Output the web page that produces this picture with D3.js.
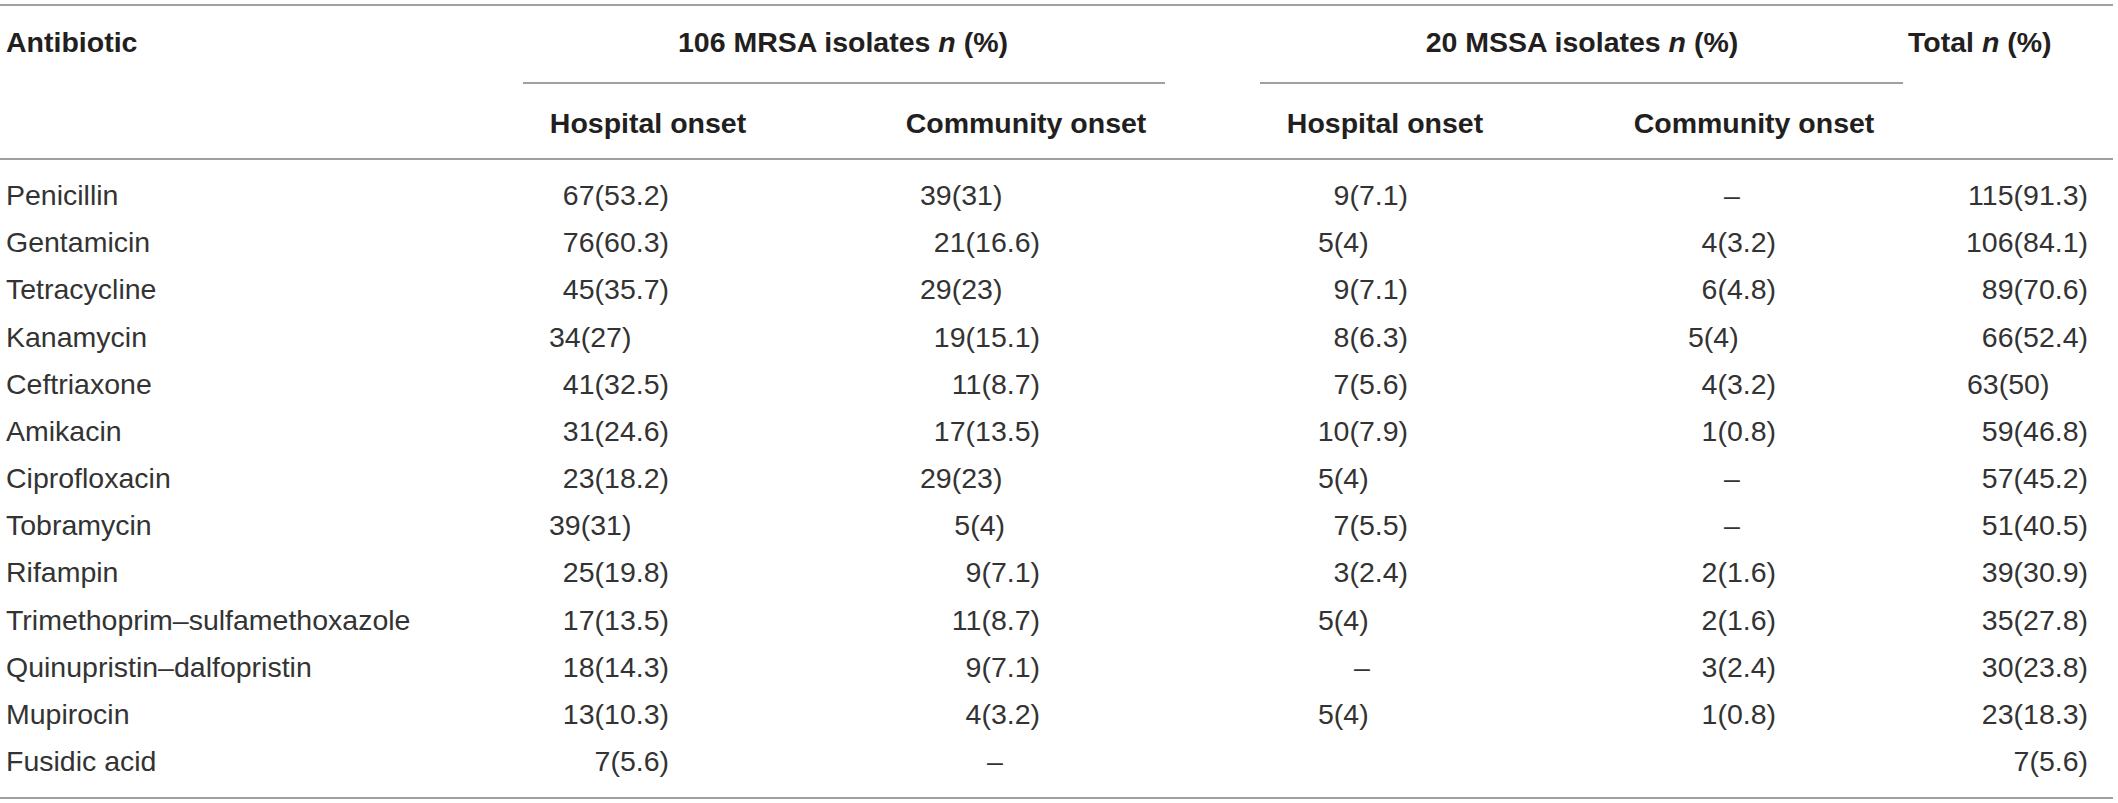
<!DOCTYPE html>
<html>
<head>
<meta charset="utf-8">
<script src="https://cdnjs.cloudflare.com/ajax/libs/d3/7.8.5/d3.min.js"></script>
<style>
  body { margin: 0; background: #fff; }
  svg { display: block; }
  text { font-family: "Liberation Sans", Arial, sans-serif; }
</style>
</head>
<body>
<script>
// row labels
var antibiotics = ["Penicillin", "Gentamicin", "Tetracycline", "Kanamycin", "Ceftriaxone", "Amikacin",
  "Ciprofloxacin", "Tobramycin", "Rifampin", "Trimethoprim–sulfamethoxazole",
  "Quinupristin–dalfopristin", "Mupirocin", "Fusidic acid"];

// null = "–", undefined = empty cell
var mrsaHospN   = [67, 76, 45, 34, 41, 31, 23, 39, 25, 17, 18, 13, 7];
var mrsaHospPct = [53.2, 60.3, 35.7, 27, 32.5, 24.6, 18.2, 31, 19.8, 13.5, 14.3, 10.3, 5.6];
var mrsaCommN   = [39, 21, 29, 19, 11, 17, 29, 5, 9, 11, 9, 4, null];
var mrsaCommPct = [31, 16.6, 23, 15.1, 8.7, 13.5, 23, 4, 7.1, 8.7, 7.1, 3.2, null];
var mssaHospN   = [9, 5, 9, 8, 7, 10, 5, 7, 3, 5, null, 5, undefined];
var mssaHospPct = [7.1, 4, 7.1, 6.3, 5.6, 7.9, 4, 5.5, 2.4, 4, null, 4, undefined];
var mssaCommN   = [null, 4, 6, 5, 4, 1, null, null, 2, 2, 3, 1, undefined];
var mssaCommPct = [null, 3.2, 4.8, 4, 3.2, 0.8, null, null, 1.6, 1.6, 2.4, 0.8, undefined];
var totalN      = [115, 106, 89, 66, 63, 59, 57, 51, 39, 35, 30, 23, 7];
var totalPct    = [91.3, 84.1, 70.6, 52.4, 50, 46.8, 45.2, 40.5, 30.9, 27.8, 23.8, 18.3, 5.6];

var groupLabels = ["106 MRSA isolates", "20 MSSA isolates"];
var subLabels = ["Hospital onset", "Community onset", "Hospital onset", "Community onset"];

var width = 2118, height = 803;
var bodySize = 28.5, headSize = 28.5;
var lineColor = "#808080", textColor = "#231f20", bodyColor = "#333333";

var svg = d3.select("body").append("svg")
  .attr("width", width)
  .attr("height", height);

// baselines of body rows
var y = d3.scalePoint()
  .domain(antibiotics)
  .range([205, 771]);

// rules
function rule(x1, x2, yy) {
  svg.append("line")
    .attr("x1", x1).attr("x2", x2)
    .attr("y1", yy).attr("y2", yy)
    .attr("stroke", lineColor)
    .attr("stroke-width", 1.5);
}
rule(0, 2113, 5);
rule(523, 1165, 83);
rule(1260, 1903, 83);
rule(0, 2113, 159);
rule(0, 2113, 798);

// header with italic n
function header(x, yy, label, anchor) {
  var t = svg.append("text")
    .attr("x", x).attr("y", yy)
    .attr("text-anchor", anchor)
    .attr("font-size", headSize)
    .attr("font-weight", "bold")
    .attr("fill", textColor);
  t.append("tspan").text(label + " ");
  t.append("tspan").attr("font-style", "italic").text("n");
  t.append("tspan").text(" (%)");
}

svg.append("text")
  .attr("x", 6).attr("y", 52)
  .attr("font-size", headSize)
  .attr("font-weight", "bold")
  .attr("fill", textColor)
  .text("Antibiotic");

header(843, 52, groupLabels[0], "middle");
header(1582, 52, groupLabels[1], "middle");
header(1908, 52, "Total", "start");

var subX = [648, 1026, 1385, 1754];
svg.selectAll("text.sub")
  .data(subLabels)
  .enter()
  .append("text")
  .attr("class", "sub")
  .attr("x", function(d, i) { return subX[i]; })
  .attr("y", 133)
  .attr("text-anchor", "middle")
  .attr("font-size", headSize)
  .attr("font-weight", "bold")
  .attr("fill", textColor)
  .text(function(d) { return d; });

// row labels
svg.selectAll("text.abx")
  .data(antibiotics)
  .enter()
  .append("text")
  .attr("class", "abx")
  .attr("x", 6)
  .attr("y", function(d) { return y(d); })
  .attr("font-size", bodySize)
  .attr("fill", bodyColor)
  .text(function(d) { return d; });

// value columns; align: R right edge, L left edge, S second right edge, C centred dash
var columns = [
  { n: mrsaHospN, pct: mrsaHospPct, left: 549, right: 669, align: "RRRLRRRLRRRRR" },
  { n: mrsaCommN, pct: mrsaCommPct, left: 920, right: 1040, right2: 1005, center: 995, align: "LRLRRRLSRRRRC" },
  { n: mssaHospN, pct: mssaHospPct, left: 1318, right: 1408, center: 1362, align: "RLRRRRLRRLCL-" },
  { n: mssaCommN, pct: mssaCommPct, left: 1688, right: 1776, center: 1732, align: "CRRLRRCCRRRR-" },
  { n: totalN, pct: totalPct, left: 1967, right: 2088, align: "RRRRLRRRRRRRR" }
];

columns.forEach(function(col) {
  var cells = antibiotics.map(function(a, i) {
    return { row: a, n: col.n[i], pct: col.pct[i], a: col.align[i] };
  }).filter(function(c) { return c.n !== undefined; });

  svg.append("g").selectAll("text")
    .data(cells)
    .enter()
    .append("text")
    .attr("y", function(d) { return y(d.row); })
    .attr("x", function(d) {
      if (d.a === "L") return col.left;
      if (d.a === "S") return col.right2;
      if (d.a === "C") return col.center;
      return col.right;
    })
    .attr("text-anchor", function(d) {
      if (d.a === "L") return "start";
      if (d.a === "C") return "middle";
      return "end";
    })
    .attr("font-size", bodySize)
    .attr("fill", bodyColor)
    .text(function(d) { return d.n === null ? "–" : d.n + "(" + d.pct + ")"; });
});
</script>
</body>
</html>
